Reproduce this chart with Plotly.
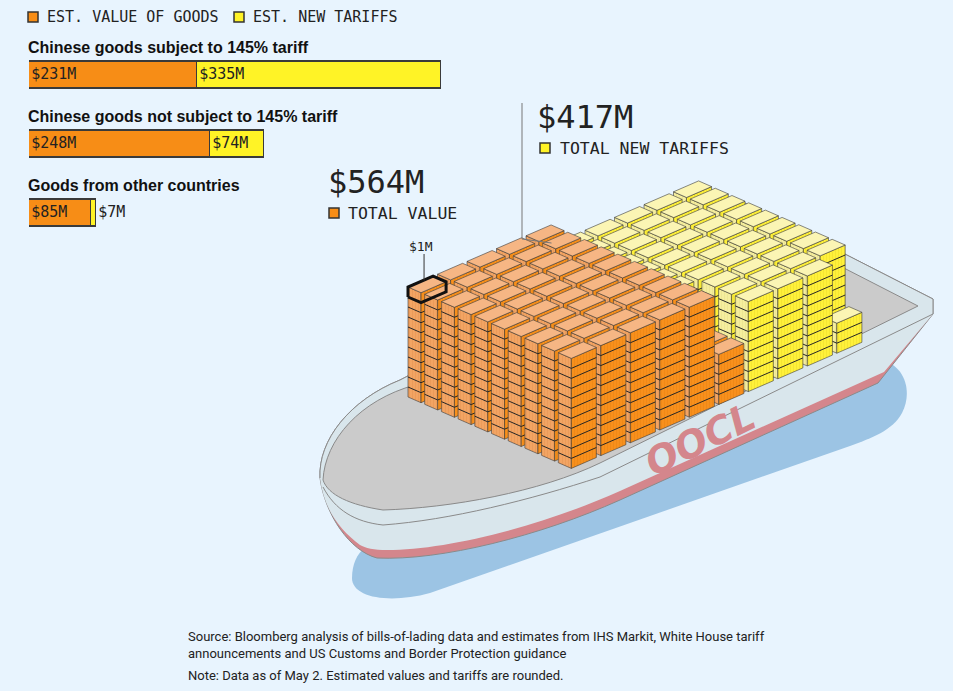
import plotly.graph_objects as go

# data
categories = ["Chinese goods subject to 145% tariff",
              "Chinese goods not subject to 145% tariff",
              "Goods from other countries"]
est_value = [231, 248, 85]
est_tariffs = [335, 74, 7]
total_value = sum(est_value)      # 564
total_tariffs = 417               # rounded total as published

BG = "#e8f4fe"
ORANGE = "#f78d16"
YELLOW = "#fff326"
INK = "#222222"
MONO = "DejaVu Sans Mono"
SANS = "Liberation Sans"

# one brick = $1M, drawn in a simple dimetric projection (pixel space)
A_STEP = (16.7, 7.3)
B_STEP = (29.5, -12.8)
EA, EB = 0.78, 0.85
DZ = 10.0
ORIGIN = (408.0, 397.0)
ROWS = 10
H_VALUE = 11
H_TARIFF = 9
SHORT = 5

FACE = {
    "value": dict(top="#f6b684", left="#f2a463", right="#f8901c",
                  lstripe="#e3914f", rstripe="#e68112"),
    "tariff": dict(top="#fbf5b4", left="#f5ee9e", right="#fff13a",
                   lstripe="#e3db88", rstripe="#e9d92a"),
}


def pt(a, b, z):
    return (ORIGIN[0] + a * A_STEP[0] + b * B_STEP[0],
            ORIGIN[1] + a * A_STEP[1] + b * B_STEP[1] - z * DZ)


# stack the bricks: value columns first, tariffs behind/right
stacks = []
full = total_value // (ROWS * H_VALUE)
for j in range(full):
    for i in range(ROWS):
        stacks.append((i, j, H_VALUE, "value"))
rem = total_value - full * ROWS * H_VALUE
i = ROWS - 1
while rem > 0:
    h = min(SHORT, rem)
    stacks.append((i, full, h, "value"))
    rem -= h
    i -= 1
used = {(s[0], s[1]) for s in stacks}
left = total_tariffs
j = full
while left > 0:
    for i in range(ROWS):
        if left <= 0:
            break
        if (i, j) in used:
            continue
        h = min(H_TARIFF, left)
        stacks.append((i, j, h, "tariff"))
        left -= h
    j += 1


def faces(i, j, h):
    top = [pt(i, j, h), pt(i + EA, j, h), pt(i + EA, j + EB, h), pt(i, j + EB, h)]
    lf = [pt(i, j, 0), pt(i + EA, j, 0), pt(i + EA, j, h), pt(i, j, h)]
    rf = [pt(i + EA, j, 0), pt(i + EA, j + EB, 0), pt(i + EA, j + EB, h), pt(i + EA, j, h)]
    return top, lf, rf


def poly_xy(polys):
    xs, ys = [], []
    for p in polys:
        for x, y in p:
            xs.append(x)
            ys.append(y)
        xs += [p[0][0], None]
        ys += [p[0][1], None]
    return xs, ys


fig = go.Figure()

diagonals = sorted({s[0] - s[1] for s in stacks})
for d in diagonals:
    row = [s for s in stacks if s[0] - s[1] == d]
    for kind in ("tariff", "value"):
        group = [s for s in row if s[3] == kind]
        if not group:
            continue
        c = FACE[kind]
        tops, lfs, rfs = [], [], []
        for i, j, h, _ in group:
            t, l, r = faces(i, j, h)
            tops.append(t)
            lfs.append(l)
            rfs.append(r)
        for polys, col, stripe in ((lfs, c["left"], c["lstripe"]),
                                   (rfs, c["right"], c["rstripe"])):
            x, y = poly_xy(polys)
            fig.add_trace(go.Scatter(
                x=x, y=y, mode="lines", fill="toself", fillcolor=col,
                fillpattern=dict(shape="|", bgcolor=col, fgcolor=stripe,
                                 size=3, solidity=0.3),
                line=dict(color="#3a3a3a", width=0.6),
                hoverinfo="skip", showlegend=False))
        x, y = poly_xy(tops)
        fig.add_trace(go.Scatter(
            x=x, y=y, mode="lines", fill="toself", fillcolor=c["top"],
            line=dict(color="#3a3a3a", width=0.6),
            hoverinfo="skip", showlegend=False))
    lx, ly = [], []
    for i, j, h, _ in row:
        for k in range(1, h):
            for p in (pt(i, j, k), pt(i + EA, j, k), pt(i + EA, j + EB, k)):
                lx.append(p[0])
                ly.append(p[1])
            lx.append(None)
            ly.append(None)
    if lx:
        fig.add_trace(go.Scatter(x=lx, y=ly, mode="lines",
                                 line=dict(color="#262626", width=1),
                                 hoverinfo="skip", showlegend=False))

# the highlighted $1M brick
h0 = H_VALUE
hexa = [pt(0, 0, h0 - 1), pt(EA, 0, h0 - 1), pt(EA, EB, h0 - 1),
        pt(EA, EB, h0), pt(0, EB, h0), pt(0, 0, h0)]
hx, hy = poly_xy([hexa])
fig.add_trace(go.Scatter(x=hx, y=hy, mode="lines",
                         line=dict(color="#111111", width=3),
                         hoverinfo="skip", showlegend=False))
cx, cy = pt(EA / 2, EB / 2, h0)
fig.add_trace(go.Scatter(x=[cx - 3, cx - 3], y=[cy - 4, 254], mode="lines",
                         line=dict(color="#333333", width=1),
                         hoverinfo="skip", showlegend=False))

# leader to the tariff block
tx, ty = pt(0, full, H_TARIFF)
fig.add_trace(go.Scatter(x=[522, 522, tx - 4], y=[103, ty - 4, ty], mode="lines",
                         line=dict(color="#777777", width=1),
                         hoverinfo="skip", showlegend=False))

# stacked bars
ypos = list(range(len(categories)))
fig.add_trace(go.Bar(
    y=ypos, x=est_value, orientation="h", xaxis="x2", yaxis="y2",
    marker=dict(color=ORANGE, line=dict(color="#3a3a3a", width=1.5)),
    width=0.377, texttemplate="$%{x}M", textposition="inside",
    insidetextanchor="start", textfont=dict(family=MONO, size=15, color=INK),
    hoverinfo="skip", showlegend=False))
fig.add_trace(go.Bar(
    y=ypos, x=est_tariffs, orientation="h", xaxis="x2", yaxis="y2",
    marker=dict(color=YELLOW, line=dict(color="#3a3a3a", width=1.5)),
    width=0.377, texttemplate="$%{x}M",
    textposition=["inside" if v > 20 else "outside" for v in est_tariffs],
    insidetextanchor="start", textfont=dict(family=MONO, size=15, color=INK),
    cliponaxis=False, hoverinfo="skip", showlegend=False))

# ship illustration
ship = [
    # shadow on the water
    dict(path="M 365,548 L 880,360 C 905,364 913,392 902,413 C 893,430 872,438 850,446 "
              "L 430,593 C 390,604 352,598 352,578 C 352,565 357,553 365,548 Z",
         fill="#9cc4e4", line_w=0),
    # full hull silhouette (pink shows as the boot stripe)
    dict(path="M 320,478 C 318,440 350,400 400,380 L 745,203 L 933,299 L 933,314 L 878,383 "
              "L 620,500 C 540,536 440,561 377,558 C 350,551 325,515 320,478 Z",
         fill="#d4868c", line_w=1),
    # light hull side above the stripe
    dict(path="M 320,478 C 318,440 350,400 400,380 L 745,203 L 933,299 L 933,314 L 884,372 "
              "L 620,491 C 540,527 445,550 387,550 C 374,550 365,548 360,545 "
              "C 340,530 324,510 320,478 Z",
         fill="#d9e6ec", line_w=0),
    # deck
    dict(path="M 323,480 C 325,440 360,400 415,385 L 760,225 L 918,306 L 600,463 "
              "C 540,492 450,508 383,510 C 350,505 328,495 323,480 Z",
         fill="#cbcbcb", line_w=1),
]
shapes = []
for s in ship:
    shapes.append(dict(type="path", path=s["path"], xref="x", yref="y",
                       fillcolor=s["fill"], layer="below",
                       line=dict(color="#8a8a8a", width=s["line_w"])))
shapes.append(dict(type="path", xref="x", yref="y", layer="below",
                   path="M 320,478 C 318,440 350,400 400,380 L 745,203 L 933,299 L 933,314",
                   line=dict(color="#8a8a8a", width=1)))
shapes.append(dict(type="path", xref="x", yref="y", layer="below",
                   path="M 323,487 C 335,510 355,522 383,525 C 450,520 530,500 600,477 L 933,314",
                   line=dict(color="#8a8a8a", width=1)))

# legend squares
for x0, y0, col in ((28, 12, ORANGE), (234, 12, YELLOW),
                    (329, 208, ORANGE), (540, 143, YELLOW)):
    shapes.append(dict(type="rect", xref="x", yref="y", x0=x0, x1=x0 + 10,
                       y0=y0, y1=y0 + 10, fillcolor=col,
                       line=dict(color="#333333", width=1.5)))

annotations = []


def note(x, y, text, size, family=MONO, color=INK, **kw):
    annotations.append(dict(x=x, y=y, xref="x", yref="y", text=text, showarrow=False,
                            xanchor=kw.pop("xanchor", "left"), yanchor="middle",
                            font=dict(family=family, size=size, color=color), **kw))


note(45, 17, "EST. VALUE OF GOODS", 15)
note(251, 17, "EST. NEW TARIFFS", 15)
for k, cat in enumerate(categories):
    note(26, 47 + 69 * k, "<b>" + cat + "</b>", 16, family=SANS, color="#111111")
note(326, 182, "$%dM" % total_value, 32)
note(346, 213, "TOTAL VALUE", 16.5)
note(535, 117, "$%dM" % total_tariffs, 32)
note(558, 148, "TOTAL NEW TARIFFS", 16.5)
note(421, 246, "$1M", 13, xanchor="center")
note(700, 440, "<b><i>OOCL</i></b>", 38, family="DejaVu Sans", color="#d4868c",
     xanchor="center", textangle=-26)
note(186, 636, "Source: Bloomberg analysis of bills-of-lading data and estimates from "
               "IHS Markit, White House tariff", 13, family="Roboto")
note(186, 653, "announcements and US Customs and Border Protection guidance", 13,
     family="Roboto")
note(186, 675, "Note: Data as of May 2. Estimated values and tariffs are rounded.", 13,
     family="Roboto")

fig.update_layout(
    width=953, height=691, autosize=False,
    margin=dict(l=0, r=0, t=0, b=0),
    paper_bgcolor=BG, plot_bgcolor=BG,
    barmode="stack", bargap=0,
    xaxis=dict(range=[0, 953], domain=[0, 1], visible=False, fixedrange=True),
    yaxis=dict(range=[691, 0], domain=[0, 1], visible=False, fixedrange=True),
    xaxis2=dict(range=[0, 600], domain=[29 / 953, 466 / 953], anchor="y2",
                visible=False, fixedrange=True),
    yaxis2=dict(range=[2.5, -0.5], domain=[1 - 247.5 / 691, 1 - 40.5 / 691],
                anchor="x2", visible=False, fixedrange=True),
    shapes=shapes, annotations=annotations,
)

fig.write_html("out.html", config={"displayModeBar": False},
               post_script="document.body.style.margin='0';")
